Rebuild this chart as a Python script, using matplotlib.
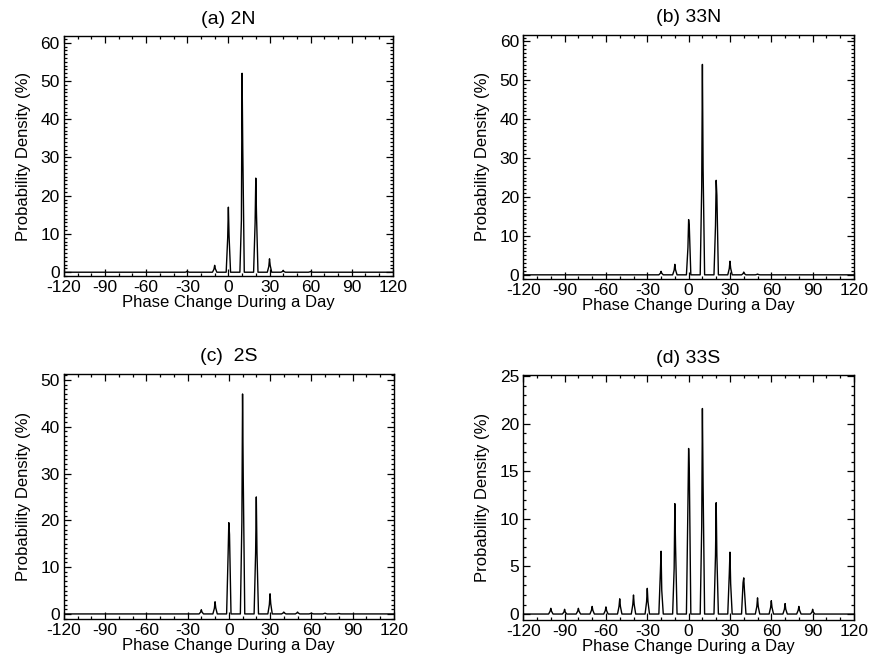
import numpy as np
import matplotlib
matplotlib.use("Agg")
import matplotlib.pyplot as plt
from matplotlib.ticker import MultipleLocator

plt.rcParams["font.family"] = ["Liberation Sans", "DejaVu Sans"]
plt.rcParams["axes.unicode_minus"] = False

# peak centres (deg), peak heights (%), and shoulder values on each side
a_centers = [-30, -10, 0, 10, 20, 30, 40, 60]
a_heights = [0.3, 1.8, 17.0, 52.0, 24.6, 3.5, 0.5, 0.2]
a_left = [0.1, 0.8, 9.0, 13.6, 12.9, 1.5, 0.2, 0.1]
a_right = [0.1, 0.9, 9.5, 32.2, 15.3, 1.8, 0.2, 0.1]

b_centers = [-20, -10, 0, 10, 20, 30, 40, 50]
b_heights = [0.9, 2.7, 14.2, 54.1, 24.3, 3.5, 0.7, 0.2]
b_left = [0.4, 1.2, 7.0, 22.7, 12.7, 1.6, 0.3, 0.1]
b_right = [0.4, 1.3, 12.3, 27.3, 20.4, 1.7, 0.3, 0.1]

c_centers = [-20, -10, 0, 10, 20, 30, 40, 50, 60, 70, 80]
c_heights = [0.9, 2.6, 19.5, 47.0, 25.0, 4.3, 0.4, 0.4, 0.15, 0.15, 0.1]
c_left = [0.4, 1.2, 12.9, 19.6, 13.1, 2.0, 0.2, 0.2, 0.1, 0.1, 0.05]
c_right = [0.4, 1.3, 17.0, 29.2, 13.1, 2.2, 0.2, 0.2, 0.1, 0.1, 0.05]

d_centers = [-100, -90, -80, -70, -60, -50, -40, -30, -20, -10,
             0, 10, 20, 30, 40, 50, 60, 70, 80, 90]
d_heights = [0.6, 0.5, 0.6, 0.8, 0.75, 1.6, 2.0, 2.7, 6.6, 11.6,
             17.4, 21.6, 11.7, 6.5, 3.8, 1.7, 1.4, 1.1, 0.8, 0.5]
d_left = [0.3, 0.2, 0.3, 0.4, 0.35, 0.8, 1.0, 1.3, 4.4, 4.8,
          11.6, 9.2, 6.2, 4.2, 3.3, 0.8, 0.7, 0.5, 0.4, 0.2]
d_right = [0.3, 0.2, 0.3, 0.4, 0.35, 0.8, 1.0, 1.3, 2.5, 7.2,
           15.0, 13.4, 6.1, 3.2, 2.5, 0.8, 0.7, 0.5, 0.4, 0.2]

titles = ["(a) 2N", "(b) 33N", "(c)  2S", "(d) 33S"]
ylims = [(-1.0, 61.7), (-1.0, 61.7), (-1.1, 51.3), (-0.6, 25.1)]
ymajor = [10, 10, 10, 5]

panels = [
    (a_centers, a_heights, a_left, a_right),
    (b_centers, b_heights, b_left, b_right),
    (c_centers, c_heights, c_left, c_right),
    (d_centers, d_heights, d_left, d_right),
]

# axes boxes in figure fractions [left, bottom, width, height]
boxes = [
    [0.073, 0.588, 0.376, 0.358],
    [0.598, 0.584, 0.378, 0.364],
    [0.073, 0.076, 0.377, 0.366],
    [0.598, 0.075, 0.378, 0.365],
]


def build_curve(centers, heights, left, right):
    xs = [-120.0]
    ys = [0.0]
    for c, h, sl, sr in zip(centers, heights, left, right):
        xs += [c - 1.6, c - 0.5, c, c + 0.5, c + 1.6]
        ys += [0.0, sl, h, sr, 0.0]
    xs.append(120.0)
    ys.append(0.0)
    return np.array(xs), np.array(ys)


fig = plt.figure(figsize=(8.75, 6.7), dpi=100)

for i, (centers, heights, left, right) in enumerate(panels):
    ax = fig.add_axes(boxes[i])
    x, y = build_curve(centers, heights, left, right)
    ax.plot(x, y, color="black", lw=1.0)

    ax.set_xlim(-120, 120)
    ax.set_ylim(*ylims[i])
    ax.xaxis.set_major_locator(MultipleLocator(30))
    ax.xaxis.set_minor_locator(MultipleLocator(10))
    ax.yaxis.set_major_locator(MultipleLocator(ymajor[i]))
    ax.yaxis.set_minor_locator(MultipleLocator(1))
    ax.tick_params(which="both", direction="in", top=True, right=True,
                   labelsize=12.5, width=0.9)
    ax.tick_params(which="major", length=5, pad=3)
    ax.tick_params(which="minor", length=2.5)
    for sp in ax.spines.values():
        sp.set_linewidth(1.0)

    ax.set_title(titles[i], fontsize=14, pad=9)
    ax.set_xlabel("Phase Change During a Day", fontsize=12, labelpad=0)
    ax.set_ylabel("Probability Density (%)", fontsize=12, labelpad=7)

fig.savefig("out.png", dpi=100)
